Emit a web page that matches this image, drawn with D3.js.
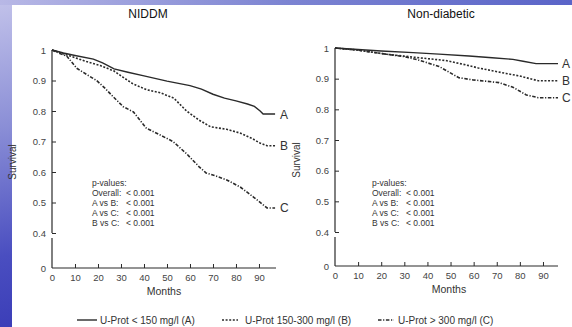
<!DOCTYPE html>
<html><head><meta charset="utf-8">
<script src="https://cdn.jsdelivr.net/npm/d3@7"></script>
<style>html,body{margin:0;padding:0;background:#fff;}svg{display:block;font-family:"Liberation Sans",Arial,sans-serif;}</style>
</head><body><svg id="c" width="572" height="327"></svg>
<script>
const panels = ["NIDDM", "Non-diabetic"];
const xTicks = [0,10,20,30,40,50,60,70,80,90];
const yTicks = [0.4,0.5,0.6,0.7,0.8,0.9,1];
const yTickLabels = ["0.4","0.5","0.6","0.7","0.8","0.9","1"];
const curveNames = ["A","B","C"];
const legendLabels = ["U-Prot < 150 mg/l (A)", "U-Prot 150-300 mg/l (B)", "U-Prot > 300 mg/l (C)"];
const pValueLines = [["p-values:",""],["Overall:","< 0.001"],["A vs B:","< 0.001"],["A vs C:","< 0.001"],["B vs C:","< 0.001"]];

// NIDDM curves: [months, survival]
const niddmA = [[0,1],[5,0.99],[10,0.982],[18,0.97],[22,0.958],[27,0.938],[33,0.927],[40,0.915],[50,0.898],[60,0.883],[65,0.872],[70,0.855],[75,0.842],[80,0.833],[85,0.823],[88,0.815],[90.5,0.80],[91.8,0.79],[97,0.79]];
const niddmB = [[0,1],[4,0.99],[8,0.98],[15,0.962],[21,0.949],[27,0.931],[31,0.91],[35,0.89],[41,0.87],[47,0.86],[53,0.842],[58.5,0.80],[64,0.77],[69,0.748],[76,0.74],[82,0.727],[87,0.71],[90.4,0.695],[93.5,0.686],[97,0.686]];
const niddmC = [[0,1],[3,0.99],[6.4,0.98],[10.8,0.94],[15,0.92],[19.4,0.90],[23,0.875],[26.7,0.846],[31,0.814],[35.4,0.797],[41,0.744],[45.5,0.727],[52.6,0.70],[58.5,0.66],[64,0.617],[67,0.597],[72,0.585],[76,0.574],[82,0.55],[87.6,0.518],[93.5,0.482],[97,0.482]];
// Non-diabetic curves
const nondA = [[0,1],[10,0.995],[20,0.99],[33.8,0.985],[45,0.98],[58,0.974],[68,0.968],[77,0.963],[81.4,0.957],[87,0.949],[96.5,0.949]];
const nondB = [[0,1],[10,0.993],[22,0.98],[34,0.97],[48,0.959],[56.6,0.945],[62,0.935],[68,0.926],[74,0.917],[79.7,0.909],[88,0.893],[96.5,0.893]];
const nondC = [[0,1],[10,0.993],[22,0.98],[30,0.972],[36,0.961],[45,0.94],[53.6,0.903],[59.7,0.896],[65,0.892],[71,0.887],[77,0.872],[82.8,0.847],[88,0.838],[96.5,0.838]];

const svg = d3.select("#c");
const defs = svg.append("defs");
const g = defs.append("linearGradient").attr("id","bg").attr("x1","0").attr("y1","0").attr("x2","0.35").attr("y2","1");
g.append("stop").attr("offset","0").attr("stop-color","#c2c2ea");
g.append("stop").attr("offset","0.35").attr("stop-color","#8a8ed6");
g.append("stop").attr("offset","0.7").attr("stop-color","#4a4ec0");
g.append("stop").attr("offset","1").attr("stop-color","#3436b4");
const g2 = defs.append("linearGradient").attr("id","bgtop").attr("x1","0").attr("y1","0").attr("x2","1").attr("y2","0");
g2.append("stop").attr("offset","0").attr("stop-color","#b8b8e6");
g2.append("stop").attr("offset","0.5").attr("stop-color","#7c84d2");
g2.append("stop").attr("offset","1").attr("stop-color","#5a64c8");
svg.append("rect").attr("width",572).attr("height",327).attr("fill","url(#bg)");
svg.append("rect").attr("width",572).attr("height",5).attr("fill","url(#bgtop)");
svg.append("rect").attr("x",12).attr("y",5).attr("width",560).attr("height",322).attr("fill","#fff");

const ink = "#2a2a2a";
const styles = [null, "2,1.6", "3.5,1.6,1.2,1.6"];

const cfg = [
  {title:panels[0], x0:52, x1:276, xmax:97.4, tx:148, yTop:50, y04:233, yBreak:238, yZero:268, data:[niddmA,niddmB,niddmC], labX:280, pX:92, pX2:126, monthsX:164, survX:16},
  {title:panels[1], x0:335, x1:558, xmax:96.5, tx:441, yTop:48, y04:232, yBreak:237, yZero:266, data:[nondA,nondB,nondC], labX:562, pX:372, pX2:406, monthsX:449, survX:300}
];

cfg.forEach(c => {
  const x = d3.scaleLinear().domain([0, c.xmax]).range([c.x0, c.x1]);
  const y = d3.scaleLinear().domain([0.4, 1]).range([c.y04, c.yTop]);
  const yLow = d3.scaleLinear().domain([0, 0.1]).range([c.yZero, c.yBreak]);
  const root = svg.append("g");

  root.append("text").attr("x", c.tx).attr("y", 18).attr("text-anchor","middle")
    .attr("font-size", 12).attr("fill", "#111").text(c.title);

  const ya = root.append("g").attr("transform", `translate(${c.x0},0)`)
    .call(d3.axisRight(y).tickValues(yTicks).tickSize(4).tickFormat((d,i)=>yTickLabels[i]));
  ya.select(".domain").attr("d", `M0,${c.yTop}V${c.y04}`).attr("stroke", ink).attr("stroke-width",1.2);
  ya.selectAll(".tick line").attr("stroke", ink).attr("stroke-width",1);
  ya.selectAll(".tick text").attr("x", -6).attr("text-anchor","end").attr("font-size", 9.5).attr("fill","#444").attr("font-family","Liberation Sans, Arial, sans-serif");

  const yb = root.append("g").attr("transform", `translate(${c.x0},0)`)
    .call(d3.axisRight(yLow).tickValues([0]).tickSize(0).tickFormat(d3.format("d")));
  yb.select(".domain").attr("d", `M0,${c.yBreak}V${c.yZero}`).attr("stroke", ink).attr("stroke-width",1.2);
  yb.selectAll(".tick text").attr("x", -6).attr("text-anchor","end").attr("font-size", 9.5).attr("fill","#444").attr("font-family","Liberation Sans, Arial, sans-serif");

  const xa = root.append("g").attr("transform", `translate(0,${c.yZero})`)
    .call(d3.axisTop(x).tickValues(xTicks).tickSize(4).tickFormat(d3.format("d")));
  xa.select(".domain").attr("d", `M${c.x0},0H${c.x1}`).attr("stroke", ink).attr("stroke-width",1.2);
  xa.selectAll(".tick line").attr("stroke", ink);
  xa.selectAll(".tick line").filter(d=>d===0).remove();
  xa.selectAll(".tick text").attr("y", 13).attr("dy", null).attr("font-size", 9.5).attr("fill","#444").attr("font-family","Liberation Sans, Arial, sans-serif");

  root.append("text").attr("x", c.monthsX).attr("y", c.yZero + 27).attr("text-anchor","middle")
    .attr("font-size", 10.5).attr("fill","#333").text("Months");
  root.append("text").attr("transform", `translate(${c.survX},${(c.yTop + c.yZero)/2 + 3}) rotate(-90)`)
    .attr("text-anchor","middle").attr("font-size", 10).attr("fill","#333").text("Survival");

  const line = d3.line().x(d => x(d[0])).y(d => y(d[1]));
  c.data.forEach((s, i) => {
    const p = root.append("path").attr("d", line(s)).attr("fill","none").attr("stroke", ink)
      .attr("stroke-width", i === 0 ? 1.4 : 1.6);
    if (styles[i]) p.attr("stroke-dasharray", styles[i]);
    const last = s[s.length-1];
    root.append("text").attr("x", c.labX).attr("y", y(last[1]) + 4.5)
      .attr("font-size", 12).attr("fill","#333").text(curveNames[i]);
  });

  pValueLines.forEach((l, i) => {
    root.append("text").attr("x", c.pX).attr("y", 186 + i*10).attr("font-size", 8.5).attr("fill","#333").text(l[0]);
    if (l[1]) root.append("text").attr("x", c.pX2).attr("y", 186 + i*10).attr("font-size", 8.5).attr("fill","#333").text(l[1]);
  });
});

const legX = [77, 222, 378];
const legText = [100, 245, 398];
legendLabels.forEach((t, i) => {
  const p = svg.append("line").attr("x1", legX[i]).attr("x2", legX[i] + (i===0?20:16)).attr("y1", 320).attr("y2", 320)
    .attr("stroke", ink).attr("stroke-width", i===0?1.4:1.6);
  if (styles[i]) p.attr("stroke-dasharray", styles[i]);
  svg.append("text").attr("x", legText[i]).attr("y", 323.5).attr("font-size", 10).attr("fill","#333").text(t);
});
</script></body></html>
